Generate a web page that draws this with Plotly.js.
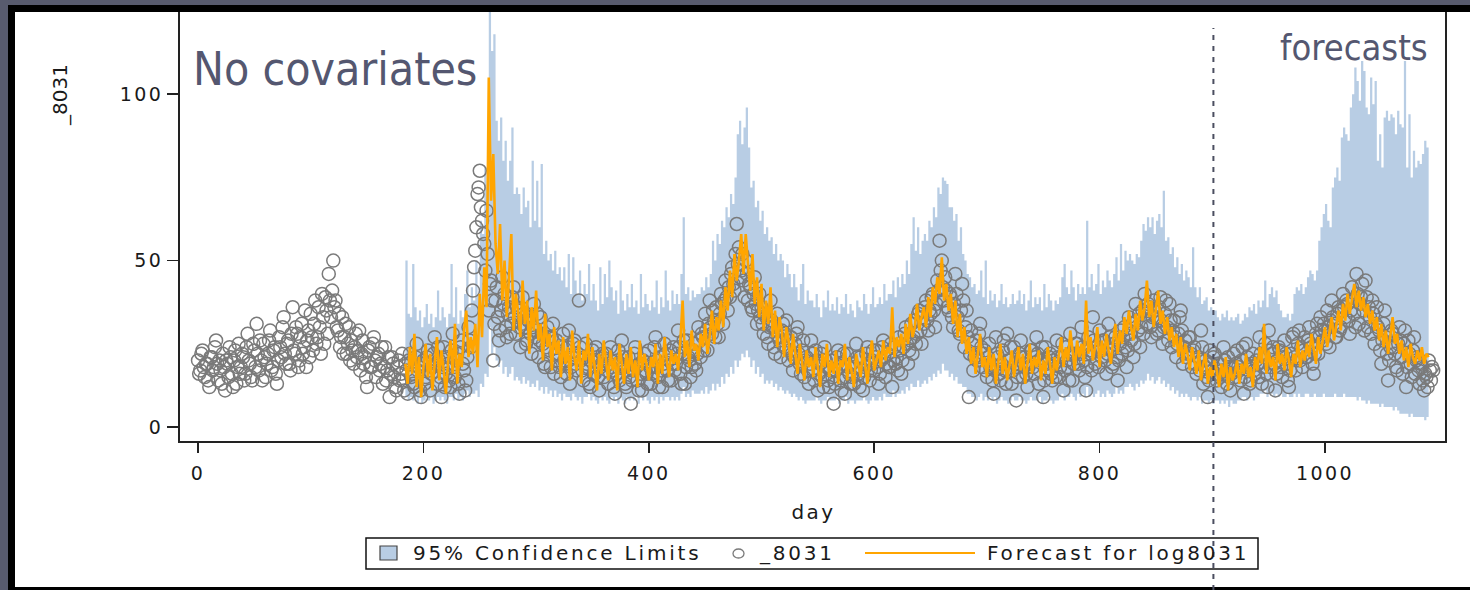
<!DOCTYPE html>
<html>
<head>
<meta charset="utf-8">
<script src="https://cdn.plot.ly/plotly-3.0.1.min.js"></script>
<style>
html, body { margin: 0; padding: 0; background: #585b6e; }
#chart { width: 1470px; height: 590px; }
.xtick text, .ytick text { letter-spacing: 2.4px; }
g.annotation[data-index="3"] text,
g.annotation[data-index="4"] text,
g.annotation[data-index="5"] text { letter-spacing: 2.8px; }
g.annotation[data-index="6"] text { letter-spacing: 2.4px; }
</style>
</head>
<body>
<div id="chart"></div>
<script>
// ---------------- data ----------------
const seriesNames = ['95% Confidence Limits', '_8031', 'Forecast for log8031'];
const xTicks = [0, 200, 400, 600, 800, 1000];
const yTicks = [0, 50, 100];
const forecastStartDay = 901;

// observed series _8031, one reading per day from day 0 (20 days per row)
const obsStartDay = 0, obsStepDays = 1;
const observed = [
  20,16,17,22,23,18,15,19,19,14,12,21,21,17,18,24,26,19,14,20,
  17,13,22,18,11,20,19,15,24,21,16,12,20,23,13,18,25,16,18,22,
  21,14,16,24,28,20,19,15,14,25,23,18,31,22,17,26,20,14,25,21,
  15,19,22,26,29,17,18,23,24,16,13,20,27,24,21,30,33,22,19,25,
  26,19,17,28,36,23,22,30,28,18,20,27,31,22,24,35,18,26,29,21,
  34,27,23,31,38,25,27,36,30,22,40,33,25,39,35,28,46,38,33,41,
  50,36,38,30,29,34,24,27,33,22,27,31,22,25,30,20,26,23,19,24,
  28,21,23,29,17,22,26,19,21,15,12,23,24,18,18,25,27,20,15,21,
  22,17,19,24,13,18,24,14,17,21,9,16,21,19,15,12,11,18,20,14,
  16,22,14,11,19,17,10,20,22,15,16,13,12,21,25,17,18,11,9,19,
  20,13,15,21,23,17,11,16,18,22,27,19,13,24,20,15,9,18,24,12,
  16,21,19,14,12,23,28,18,15,20,22,13,10,24,26,19,17,11,14,21,
  30,26,24,35,41,48,53,60,70,72,77,66,62,58,55,47,65,52,35,43,
  44,38,20,31,38,42,33,26,29,35,45,37,40,30,27,34,36,28,31,39,
  42,33,28,36,35,30,24,31,39,34,30,25,26,32,33,28,22,30,37,27,
  29,34,21,26,33,28,25,19,18,24,30,27,23,18,27,31,16,22,26,20,
  22,18,15,24,28,20,19,16,24,29,13,18,21,25,26,19,17,22,38,24,
  20,17,14,21,25,19,18,13,12,20,23,16,16,24,21,15,11,18,19,22,
  15,20,22,17,13,19,24,18,17,12,10,16,20,23,14,19,26,21,18,13,
  12,17,21,15,7,14,17,22,24,18,14,11,19,16,11,20,22,17,16,13,
  23,18,13,16,18,24,27,20,15,12,21,17,12,19,25,22,17,14,20,23,
  14,19,24,17,19,22,29,24,16,13,22,26,13,18,26,21,20,15,18,23,
  25,19,17,22,30,26,21,28,27,23,34,29,23,31,38,30,28,35,32,27,
  36,31,27,34,40,37,31,38,44,39,35,42,39,46,48,43,41,52,61,49,
  54,45,47,52,44,39,50,46,38,43,42,36,35,40,45,37,31,35,40,33,
  36,31,28,34,33,27,25,30,38,32,30,24,22,29,34,27,26,21,29,31,
  24,28,32,26,20,23,27,22,17,21,25,28,30,22,19,16,23,26,15,20,
  21,17,13,19,26,22,17,14,23,20,11,16,19,22,15,12,24,20,18,14,
  12,17,20,15,7,13,17,21,23,18,14,11,19,22,10,15,22,18,16,13,
  19,15,13,18,25,21,16,12,21,17,11,15,18,22,24,19,14,17,20,23,
  17,21,23,18,13,16,20,24,26,21,15,19,22,18,18,25,12,20,24,19,
  21,17,27,23,16,20,24,28,30,25,19,23,26,31,22,27,32,25,28,34,
  35,29,25,33,31,36,38,32,29,35,34,39,40,35,30,37,44,41,56,47,
  50,42,38,45,41,36,35,40,39,33,30,37,46,40,33,29,28,35,43,38,
  24,30,35,27,9,22,29,25,17,21,26,20,21,28,31,24,18,22,23,17,
  15,21,25,18,19,14,10,17,27,22,21,16,14,19,23,26,17,13,28,20,
  20,24,13,17,24,19,8,15,18,22,26,21,15,19,21,16,12,18,19,23,
  23,18,16,21,27,22,13,17,20,24,9,14,24,19,17,21,22,16,14,20,
  19,15,26,21,15,18,21,25,11,17,24,20,18,14,28,22,14,19,22,25,
  25,19,17,22,30,24,20,15,11,18,27,23,22,17,33,26,19,24,24,18,
  29,23,21,26,26,20,16,22,31,27,23,18,19,25,27,21,14,20,25,29,
  22,27,30,24,18,23,33,28,26,31,21,25,37,32,29,34,24,30,35,28,
  40,34,31,37,36,30,27,33,38,35,33,28,29,36,39,32,25,30,34,38,
  30,26,37,32,24,29,32,27,21,25,28,33,35,29,19,24,26,21,22,27,
  27,22,18,23,24,19,16,21,21,17,29,24,13,18,20,15,9,14,23,19,
  17,21,22,16,14,19,19,15,12,17,24,20,16,13,21,18,11,16,18,22,
  15,19,23,18,17,14,20,24,10,15,25,21,18,13,14,19,22,17,16,20,
  19,15,27,22,13,18,21,25,16,12,29,23,18,22,24,19,11,16,20,24,
  23,18,15,21,26,22,19,14,12,17,22,27,28,21,17,20,25,29,20,24,
  18,23,27,21,21,26,30,25,24,19,16,22,28,31,22,27,33,29,26,31,
  29,25,35,30,24,32,38,33,31,27,27,34,36,29,30,35,40,36,33,38,
  37,32,28,35,42,38,34,30,46,40,31,37,39,43,35,29,44,39,30,36,
  33,28,38,34,25,31,36,30,29,23,19,26,31,35,27,22,14,20,24,29,
  28,24,22,18,17,25,30,26,21,16,25,29,12,18,26,22,19,15,23,27,
  16,20,21,17,13,19,18,14,11,16,15,12,20,17,14,18,17
];

// forecast for log8031 and its 95% limits, every second day from day 184 (20 days per row)
const fcStartDay = 184, fcStepDays = 2;
const forecast = [
  19,13,24,16,28,12,21,9,18,25,    15,22,11,19,27,14,23,17,10,20,
  26,16,31,13,22,18,29,35,21,27,   22,31,18,40,27,48,36,105,68,82,
  55,46,61,38,50,33,44,58,29,40,   35,27,44,31,38,22,36,29,41,26,
  31,20,34,24,28,17,30,22,26,15,   27,19,24,14,29,21,17,26,13,23,
  20,28,15,24,18,11,22,16,26,19,   14,23,17,21,11,25,18,13,22,16,
  24,15,20,12,26,17,22,19,14,21,   18,25,13,22,16,27,20,15,23,19,
  22,17,26,38,21,26,18,29,23,25,   20,28,24,31,22,27,35,25,33,29,
  38,30,42,35,47,39,52,44,50,58,   46,58,49,41,52,37,45,33,43,29,
  38,31,42,27,35,24,33,29,21,30,   26,19,28,22,16,25,20,14,23,18,
  21,15,24,17,12,22,18,25,15,20,   16,23,13,20,18,25,14,21,17,12,
  22,18,15,24,19,13,21,26,17,20,   23,18,26,20,24,22,36,21,27,24,
  28,22,31,25,34,27,30,37,29,33,   36,30,39,33,42,37,45,40,51,38,
  43,35,40,31,38,27,34,25,30,22,   27,19,24,16,22,28,18,21,15,24,
  17,22,13,20,25,16,21,14,19,23,   15,20,24,17,22,13,19,25,16,21,
  18,23,14,20,16,24,19,13,21,17,   22,27,18,24,20,29,23,17,26,21,
  25,19,38,22,27,20,24,30,18,26,   21,28,23,19,26,31,22,29,25,33,
  28,35,30,26,34,29,38,32,36,44,   33,38,30,36,41,31,35,28,33,26,
  30,24,28,21,27,19,25,22,17,24,   20,16,23,14,19,22,13,18,15,20,
  17,12,19,15,21,11,18,14,16,20,   13,19,16,22,15,18,12,21,17,24,
  19,31,16,23,18,21,14,25,19,22,   17,24,20,15,22,19,26,18,23,20,
  25,21,28,23,19,27,22,26,30,24,   28,33,26,31,35,29,37,32,40,34,
  38,43,36,41,35,39,33,37,31,35,   29,33,26,31,24,29,22,27,33,25,
  28,22,26,20,24,18,25,21,19,23,   20,24,19,22,21
];
const upper95 = [
  50,34,33,49,36,32,35,30,33,37,   31,34,30,33,41,32,36,33,30,34,
  49,33,42,31,35,33,40,47,36,42,   38,50,40,62,58,78,72,130,113,118,
  92,86,93,80,86,74,80,90,70,72,   70,64,72,66,68,60,80,62,74,60,
  79,52,56,50,52,47,53,46,48,44,   48,42,52,40,51,44,40,47,38,43,
  40,49,38,43,38,35,48,37,46,39,   50,42,38,41,34,44,38,35,40,36,
  43,36,38,34,46,36,40,37,35,38,   36,44,34,39,36,47,38,35,41,37,
  40,37,46,63,40,42,38,41,39,40,   40,42,41,45,42,46,56,50,58,55,
  62,60,66,63,70,67,75,88,92,85,   90,96,84,72,74,66,68,62,65,58,
  60,56,57,52,55,50,52,50,45,49,   46,42,46,42,38,43,49,37,41,38,
  38,36,40,36,33,38,36,41,35,37,   35,39,34,37,36,40,34,37,35,33,
  38,36,35,40,37,34,37,42,36,37,   39,37,43,38,40,40,44,39,45,42,
  46,43,50,46,55,63,53,60,52,56,   58,56,62,60,66,63,72,70,75,74,
  73,66,66,62,64,56,60,52,50,46,   45,42,43,40,41,47,39,50,37,41,
  38,40,36,38,43,37,39,36,37,40,   37,38,41,37,40,35,38,44,36,39,
  37,39,35,43,36,40,38,35,38,37,   39,45,49,42,40,47,42,38,43,40,
  42,40,62,42,46,41,43,49,40,44,   42,47,44,42,46,51,44,55,47,53,
  50,52,50,49,52,51,56,61,59,63,   60,63,58,62,64,60,71,56,57,52,
  54,48,51,46,49,44,47,45,42,54,   42,39,42,37,38,39,35,36,35,35,
  33,32,34,33,35,32,33,32,33,34,   31,32,34,33,36,35,37,34,38,36,
  38,44,36,40,42,39,41,37,35,33,   33,34,32,34,40,42,41,43,40,42,
  45,47,46,44,47,56,60,64,67,62,   60,72,75,78,74,87,90,88,86,96,
  100,108,104,98,110,107,96,94,105,97,   104,80,88,78,93,95,92,94,93,88,
  95,91,90,110,78,94,75,83,78,80,  79,82,86,84,87
];
const lower95 = [
  9,8,9,8,9,7,9,7,8,9,             8,9,7,8,9,8,9,8,7,9,
  9,8,10,8,9,8,10,11,9,10,         10,11,9,13,12,16,15,30,22,24,
  20,18,20,16,18,15,16,18,14,15,   14,13,15,13,14,12,13,12,14,11,
  12,10,12,10,11,9,11,9,10,8,      10,9,9,8,10,9,8,9,7,9,
  9,10,8,9,8,7,9,8,9,8,            7,9,8,9,7,9,8,7,9,8,
  9,8,9,7,9,8,9,8,7,9,             8,9,7,9,8,9,9,8,9,8,
  9,8,10,12,9,10,9,11,10,10,       10,11,10,12,10,11,13,11,13,12,
  15,13,16,15,18,16,20,18,20,22,   21,23,21,18,20,16,18,15,16,13,
  14,13,14,12,13,11,12,11,10,11,   10,9,10,9,8,9,8,7,8,8,
  8,8,9,8,7,8,8,9,8,8,             8,9,7,8,8,9,7,8,8,7,
  8,8,8,9,8,7,8,9,8,8,             9,8,10,9,9,9,11,9,10,10,
  11,10,12,11,13,12,12,14,12,13,   14,13,15,14,16,15,17,16,19,17,
  17,15,16,14,15,13,13,12,12,10,   10,9,9,8,9,10,8,9,8,9,
  8,9,7,8,9,8,8,7,8,9,             8,8,9,8,8,7,8,9,8,8,
  8,9,7,8,8,9,8,7,8,8,             9,10,8,9,9,10,9,8,10,9,
  10,9,12,9,10,9,10,11,9,10,       9,11,10,9,10,12,10,11,10,12,
  12,13,12,11,13,12,14,13,14,16,   14,15,13,14,15,13,14,12,13,11,
  12,10,11,9,10,9,10,9,8,9,        9,8,9,7,8,8,7,8,7,8,
  8,7,8,7,8,6,8,7,7,8,             8,9,9,8,9,9,8,9,9,10,
  10,11,9,10,10,9,10,9,10,9,       9,10,9,9,10,9,10,9,9,10,
  10,9,9,10,9,9,9,10,9,9,          9,9,10,9,9,9,10,9,9,9,
  9,9,8,9,8,8,7,8,7,7,             7,7,6,7,6,6,6,6,5,6,
  5,4,4,4,4,3,4,3,3,3,             3,3,2,3,3
];

// ---------------- chart ----------------
const obsDays = observed.map((v, i) => obsStartDay + i * obsStepDays);
const fcDays = forecast.map((v, i) => fcStartDay + i * fcStepDays);

const BAND = '#b8cde4', ORANGE = '#ffa500', GREY = '#7a7a7a', SLATE = '#545770', INK = '#1a1a1a';
const FONT = 'DejaVu Sans, Arial, sans-serif';

// plot frame in pixels (used only for placing decorations)
const L = 180, R = 1445, T = 12, B = 441;
const px2x = px => (px - L) / (R - L);
const py2y = py => (B - py) / (B - T);

const traces = [
  { x: fcDays, y: lower95, type: 'scatter', mode: 'lines', name: 'lower',
    line: { width: 0, shape: 'hv', color: BAND }, hoverinfo: 'skip', showlegend: false },
  { x: fcDays, y: upper95, type: 'scatter', mode: 'lines', name: seriesNames[0],
    fill: 'tonexty', fillcolor: BAND, line: { width: 0, shape: 'hv', color: BAND }, showlegend: false },
  { x: obsDays, y: observed, type: 'scatter', mode: 'markers', name: seriesNames[1],
    marker: { symbol: 'circle-open', size: 13, color: GREY, line: { width: 1.5, color: GREY } }, showlegend: false },
  { x: fcDays, y: forecast, type: 'scatter', mode: 'lines', name: seriesNames[2],
    line: { color: ORANGE, width: 2.6 }, showlegend: false }
];

const shapes = [
  // outer black frame and white page
  { type: 'rect', xref: 'paper', yref: 'paper', layer: 'below', x0: px2x(8), x1: px2x(1490), y0: py2y(600), y1: py2y(5),
    fillcolor: '#000000', line: { width: 0 } },
  { type: 'rect', xref: 'paper', yref: 'paper', layer: 'below', x0: px2x(15), x1: px2x(1490), y0: py2y(587), y1: py2y(12),
    fillcolor: '#ffffff', line: { width: 0 } },
  // legend box and keys
  { type: 'rect', xref: 'paper', yref: 'paper', layer: 'above', x0: px2x(366), x1: px2x(1258), y0: py2y(569), y1: py2y(538),
    fillcolor: '#ffffff', line: { color: '#111111', width: 1.5 } },
  { type: 'rect', xref: 'paper', yref: 'paper', layer: 'above', x0: px2x(380), x1: px2x(397), y0: py2y(560), y1: py2y(546),
    fillcolor: BAND, line: { color: '#444444', width: 1.2 } },
  { type: 'circle', xref: 'paper', yref: 'paper', layer: 'above', x0: px2x(733), x1: px2x(744), y0: py2y(558), y1: py2y(549),
    line: { color: GREY, width: 1.3 } },
  { type: 'line', xref: 'paper', yref: 'paper', layer: 'above', x0: px2x(865), x1: px2x(975), y0: py2y(553), y1: py2y(553),
    line: { color: ORANGE, width: 2 } },
  // start of the forecast horizon
  { type: 'line', xref: 'x', yref: 'paper', layer: 'above', x0: forecastStartDay, x1: forecastStartDay,
    y0: py2y(590), y1: py2y(28), line: { color: '#4b4e60', width: 2, dash: '5px,6px' } }
];

const annotations = [
  { text: 'No covariates', xref: 'paper', yref: 'paper', x: px2x(191), y: py2y(69), xanchor: 'left', yanchor: 'middle',
    showarrow: false, font: { family: 'DejaVu Sans Condensed, Noto Sans, sans-serif', size: 46, color: SLATE } },
  { text: 'forecasts', xref: 'paper', yref: 'paper', x: px2x(1430), y: py2y(47), xanchor: 'right', yanchor: 'middle',
    showarrow: false, font: { family: 'DejaVu Sans Condensed, Noto Sans, sans-serif', size: 36, color: SLATE } },
  { text: '_8031', xref: 'paper', yref: 'paper', x: px2x(60), y: py2y(95), textangle: -90, xanchor: 'center', yanchor: 'middle',
    showarrow: false, font: { family: FONT, size: 20, color: INK } },
  { text: seriesNames[0], xref: 'paper', yref: 'paper', x: px2x(411), y: py2y(553), xanchor: 'left', yanchor: 'middle', align: 'left',
    showarrow: false, font: { family: FONT, size: 20, color: INK } },
  { text: seriesNames[1], xref: 'paper', yref: 'paper', x: px2x(757), y: py2y(553), xanchor: 'left', yanchor: 'middle', align: 'left',
    showarrow: false, font: { family: FONT, size: 20, color: INK } },
  { text: seriesNames[2], xref: 'paper', yref: 'paper', x: px2x(985), y: py2y(553), xanchor: 'left', yanchor: 'middle', align: 'left',
    showarrow: false, font: { family: FONT, size: 20, color: INK } },
  { text: 'day', xref: 'paper', yref: 'paper', x: px2x(813), y: py2y(512), xanchor: 'center', yanchor: 'middle',
    showarrow: false, font: { family: FONT, size: 20, color: INK } }
];

const layout = {
  width: 1470, height: 590,
  margin: { l: L, r: 1470 - R, t: T, b: 590 - B, pad: 0 },
  paper_bgcolor: '#585b6e', plot_bgcolor: '#ffffff',
  showlegend: false,
  hovermode: false,
  xaxis: {
    range: [-16, 1106.5], tickmode: 'array', tickvals: xTicks, ticktext: xTicks.map(String),
    ticks: 'outside', ticklen: 10, tickwidth: 1.5, tickcolor: '#222222', ticklabelstandoff: 4,
    showline: true, linecolor: '#222222', linewidth: 2, showgrid: false, zeroline: false,
    tickfont: { family: FONT, size: 19, color: INK }, fixedrange: true
  },
  yaxis: {
    range: [-4.2, 124.7], tickmode: 'array', tickvals: yTicks, ticktext: yTicks.map(String),
    ticks: 'outside', ticklen: 11, tickwidth: 1.5, tickcolor: '#222222',
    showline: true, mirror: true, linecolor: '#222222', linewidth: 2, showgrid: false, zeroline: false,
    tickfont: { family: FONT, size: 19, color: INK }, fixedrange: true
  },
  shapes: shapes,
  annotations: annotations
};

Plotly.newPlot('chart', traces, layout, { displayModeBar: false, staticPlot: true });
</script>
</body>
</html>
